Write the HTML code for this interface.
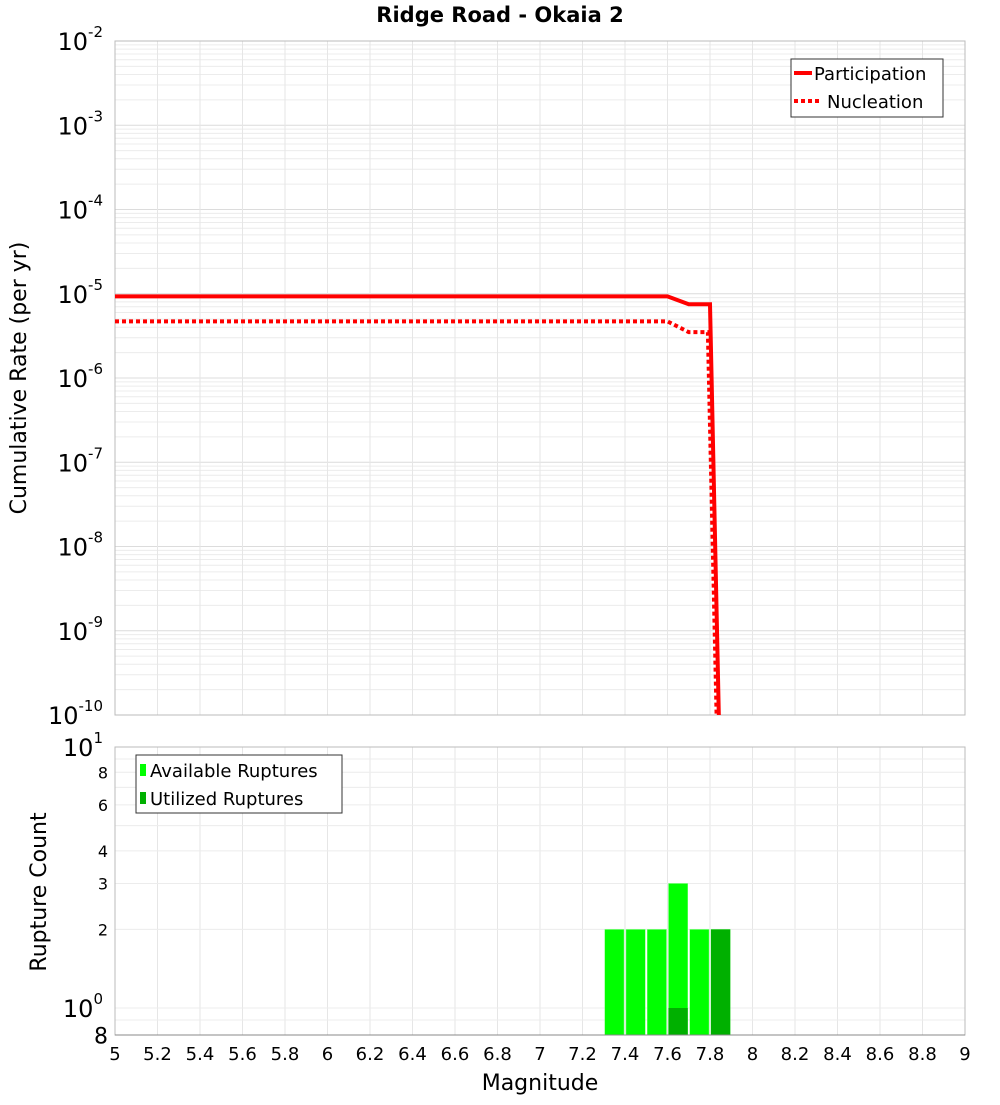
<!DOCTYPE html>
<html><head><meta charset="utf-8"><style>
body{margin:0;background:#fff;font-family:"Liberation Sans","DejaVu Sans",sans-serif}
svg text{font-family:"DejaVu Sans","Liberation Sans",sans-serif}
</style></head><body>
<svg id="c" width="1000" height="1100" xmlns="http://www.w3.org/2000/svg">
<rect width="1000" height="1100" fill="#fff"/>
<text x="500" y="22" text-anchor="middle" font-size="21" font-weight="bold">Ridge Road - Okaia 2</text>
<g id="top"></g><g id="bot"></g>
</svg>
<script>
const mags=[5.0,7.6,7.7,7.8,7.85];
const participation=[9.3e-6,9.3e-6,7.5e-6,7.5e-6,1e-11];
const nucMags=[5.0,7.6,7.7,7.79,7.84];
const nucleation=[4.7e-6,4.7e-6,3.5e-6,3.5e-6,1e-11];
const binCenters=[7.35,7.45,7.55,7.65,7.75,7.85];
const available=[2,2,2,3,2,2];
const utilized=[0,0,0,1,0,2];
const xTicks=[5,5.2,5.4,5.6,5.8,6,6.2,6.4,6.6,6.8,7,7.2,7.4,7.6,7.8,8,8.2,8.4,8.6,8.8,9];
const topExps=[-2,-3,-4,-5,-6,-7,-8,-9,-10];
const botTicks=[10,8,6,4,3,2,1,0.8];
const botLabels=["10|1","8","6","4","3","2","10|0","8"];

const NS="http://www.w3.org/2000/svg";
const L=115,R=965,T1=41,B1=715,T2=747,B2=1035;
const xs=m=>L+(m-5)/4*(R-L);
const y1=v=>T1+(-2-Math.log10(v))/8*(B1-T1);
const y2=v=>T2+(1-Math.log10(v))*261;
function el(p,t,a,txt){const e=document.createElementNS(NS,t);for(const k in a)e.setAttribute(k,a[k]);if(txt!=null)e.textContent=txt;p.appendChild(e);return e;}
const topG=document.getElementById('top'),botG=document.getElementById('bot');
const svgEl=document.getElementById('c');
const defs=el(svgEl,'defs',{});
const cp1=el(defs,'clipPath',{id:'cp1'});el(cp1,'rect',{x:L,y:T1,width:R-L,height:B1-T1});
const cp2=el(defs,'clipPath',{id:'cp2'});el(cp2,'rect',{x:L,y:T2,width:R-L,height:B2-T2});

for(let e=-10;e<-2;e++){for(let k=1;k<10;k++){const v=k*Math.pow(10,e);const yy=y1(v);
 const g=el(topG,'line',{x1:L,x2:R,y1:yy,y2:yy,stroke:k==1?'#dcdcdc':'#ececec','stroke-width':1});
 }}
xTicks.forEach(t=>{const g=el(topG,'line',{x1:xs(t),x2:xs(t),y1:T1,y2:B1,stroke:'#e6e6e6'});
 
 const g2=el(botG,'line',{x1:xs(t),x2:xs(t),y1:T2,y2:B2,stroke:'#e6e6e6'});
 });
let r=el(topG,'rect',{x:L,y:T1,width:R-L,height:B1-T1,fill:'none',stroke:'#bbb'});

topExps.forEach(e=>{const t=el(topG,'text',{x:103,y:y1(Math.pow(10,e))+9,'text-anchor':'end','font-size':24});
 
 t.appendChild(document.createTextNode('10'));el(t,'tspan',{dy:-13,'font-size':15},String(e));});
let yt=el(topG,'text',{transform:'translate(26,378) rotate(-90)','text-anchor':'middle','font-size':22},'Cumulative Rate (per yr)');

const gl=el(topG,'g',{'clip-path':'url(#cp1)'});
let p=el(gl,'polyline',{points:mags.map((m,i)=>xs(m)+','+y1(participation[i])).join(' '),fill:'none',stroke:'#f00','stroke-width':4});

let n=el(gl,'polyline',{points:nucMags.map((m,i)=>xs(m)+','+y1(nucleation[i])).join(' '),fill:'none',stroke:'#f00','stroke-width':4,'stroke-dasharray':'4 3'});

const lg=el(topG,'g',{});
el(lg,'rect',{x:791,y:59,width:152,height:58,fill:'#fff',stroke:'#333'});
el(lg,'line',{x1:794,x2:812,y1:73,y2:73,stroke:'#f00','stroke-width':4});
el(lg,'text',{x:814,y:80,'font-size':18},'Participation');
el(lg,'line',{x1:794,x2:822,y1:101,y2:101,stroke:'#f00','stroke-width':4,'stroke-dasharray':'4 3'});
el(lg,'text',{x:827,y:108,'font-size':18},'Nucleation');

[0.9,1,2,3,4,5,6,7,8,9,10].forEach(v=>{const g=el(botG,'line',{x1:L,x2:R,y1:y2(v),y2:y2(v),stroke:'#ececec'});
 });
const gb=el(botG,'g',{'clip-path':'url(#cp2)'});
binCenters.forEach((c,i)=>{
 const x0=xs(c-0.05)+1,w=xs(c+0.05)-xs(c-0.05)-2;
 let b=el(gb,'rect',{x:x0,y:y2(available[i]),width:w,height:B2-y2(available[i]),fill:'#00ff00',stroke:'#7fff7f','stroke-width':0.5});
 
 if(utilized[i]>0){let u=el(gb,'rect',{x:x0,y:y2(utilized[i]),width:w,height:B2-y2(utilized[i]),fill:'#00b000'});
  }
});
r=el(botG,'rect',{x:L,y:T2,width:R-L,height:B2-T2,fill:'none',stroke:'#bbb'});

el(botG,'line',{x1:L,x2:R,y1:B2,y2:B2,stroke:'#888'});
botTicks.forEach((v,i)=>{const lab=botLabels[i];let t;
 if(lab.includes('|')){const [b,e]=lab.split('|');t=el(botG,'text',{x:103,y:y2(v)+9,'text-anchor':'end','font-size':24});
  t.appendChild(document.createTextNode(b));el(t,'tspan',{dy:-13,'font-size':15},e);}
 else{t=el(botG,'text',{x:108,y:y2(v)+(i==7?10:6),'text-anchor':'end','font-size':i==7?22:16},lab);}
 });
yt=el(botG,'text',{transform:'translate(46,892) rotate(-90)','text-anchor':'middle','font-size':22},'Rupture Count');

xTicks.forEach(t=>{const tx=el(botG,'text',{x:xs(t),y:1060,'text-anchor':'middle','font-size':18},String(t));
 });
let xt=el(botG,'text',{x:540,y:1090,'text-anchor':'middle','font-size':22},'Magnitude');

const lb=el(botG,'g',{});
el(lb,'rect',{x:136,y:755,width:206,height:58,fill:'#fff',stroke:'#333'});
el(lb,'rect',{x:140,y:764,width:6,height:12,fill:'#00ff00'});
el(lb,'text',{x:150,y:777,'font-size':18},'Available Ruptures');
el(lb,'rect',{x:140,y:792,width:6,height:12,fill:'#00b000'});
el(lb,'text',{x:150,y:805,'font-size':18},'Utilized Ruptures');
</script>
</body></html>
